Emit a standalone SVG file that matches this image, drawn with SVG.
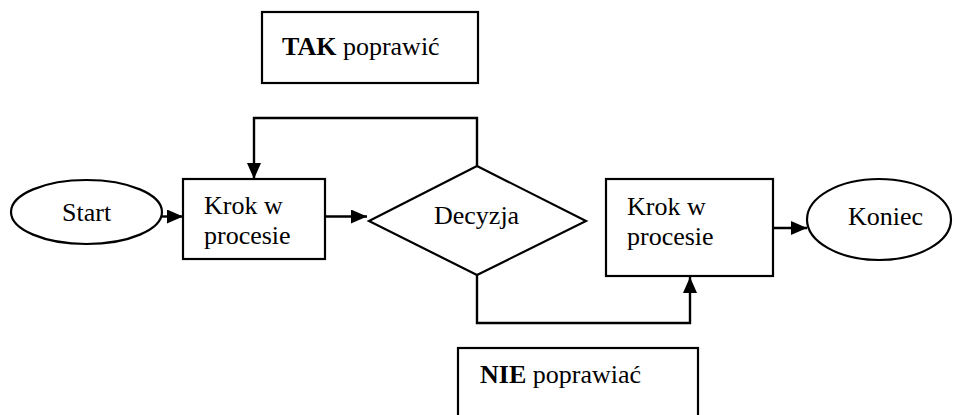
<svg xmlns="http://www.w3.org/2000/svg" width="959" height="415" viewBox="0 0 959 415">
<defs>
<style>
.s{fill:#fff;stroke:#000;stroke-width:2.2}
.t{font-family:"Liberation Serif","Times New Roman",serif;font-size:26px;fill:#000}
.c{fill:none;stroke:#000;stroke-width:2.4}
</style>
<marker id="ah" markerUnits="userSpaceOnUse" markerWidth="16" markerHeight="14" refX="16" refY="7" orient="auto">
<path d="M0,0 L16,7 L0,14 Z" fill="#000"/>
</marker>
</defs>
<rect width="959" height="415" fill="#fff"/>
<g id="tak">
<rect class="s" x="262" y="12" width="216" height="71"/>
<text class="t" x="282" y="55"><tspan font-weight="bold">TAK</tspan> poprawić</text>
</g>
<g id="nie">
<rect class="s" x="458" y="348" width="240" height="80"/>
<text class="t" x="480" y="383"><tspan font-weight="bold">NIE</tspan> poprawiać</text>
</g>
<g id="start">
<ellipse class="s" cx="86.5" cy="212" rx="75.5" ry="32"/>
<text class="t" x="62" y="221">Start</text>
</g>
<g id="krok1">
<rect class="s" x="183" y="179" width="142" height="80"/>
<text class="t" x="204" y="214">Krok w</text>
<text class="t" x="204" y="244">procesie</text>
</g>
<g id="decyzja">
<polygon class="s" points="477,166 586,221 477,275 369,221"/>
<text class="t" x="434" y="224">Decyzja</text>
</g>
<g id="krok2">
<rect class="s" x="606" y="179" width="167" height="97"/>
<text class="t" x="627" y="215">Krok w</text>
<text class="t" x="627" y="245">procesie</text>
</g>
<g id="koniec">
<ellipse class="s" cx="879" cy="219.5" rx="72" ry="40.5"/>
<text class="t" x="848" y="225">Koniec</text>
</g>
<g id="connectors">
<path class="c" d="M162,216.5 L183,216.5" marker-end="url(#ah)"/>
<path class="c" d="M325,216.5 L367,216.5" marker-end="url(#ah)"/>
<path class="c" d="M477,166 L477,118 L254,118 L254,179" marker-end="url(#ah)"/>
<path class="c" d="M477,275 L477,323 L690,323 L690,277" marker-end="url(#ah)"/>
<path class="c" d="M773,228 L807,228" marker-end="url(#ah)"/>
</g>
</svg>
